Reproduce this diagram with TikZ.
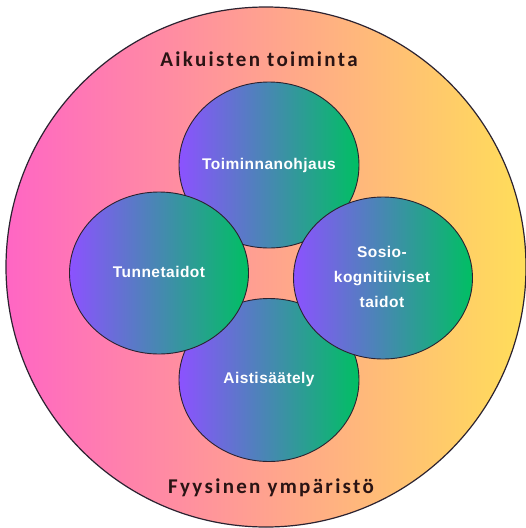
\documentclass[tikz,border=0pt]{standalone}
\usepackage{fontspec}
\setmainfont{Liberation Sans}
\newfontfamily\skillfont{Liberation Sans}[LetterSpace=3]
\newfontfamily\outerfont{Carlito}[LetterSpace=11]
\usetikzlibrary{shapes.geometric}
\definecolor{pinkA}{HTML}{FF66C4}
\definecolor{yellowA}{HTML}{FFDE59}
\definecolor{purpleA}{HTML}{8C52FF}
\definecolor{greenA}{HTML}{00BF63}
\definecolor{outline}{HTML}{2B2230}
\definecolor{titletext}{HTML}{2A1414}
\tikzset{
  outerring/.style={circle, inner sep=0pt, minimum size=520pt, left color=pinkA, right color=yellowA, draw=outline, line width=1.2pt},
  skill/.style={ellipse, inner sep=0pt, minimum width=180pt, minimum height=164pt, left color=purpleA, right color=greenA, draw=outline, line width=0.9pt},
  skilltext/.style={text=white, font=\skillfont\bfseries\fontsize{15.5}{25}\selectfont, align=center},
  outertext/.style={text=titletext, font=\outerfont\bfseries\fontsize{21}{24}\selectfont}
}
\begin{document}
\begin{tikzpicture}[x=1pt,y=-1pt]
\useasboundingbox (0,0) rectangle (526,528);
\fill[white] (0,0) rectangle (526,528);
\node[outerring] (outer) at (266,267) {};
\node[outertext] (aikuiset) at (259,59) {Aikuisten toiminta};
\node[outertext] (fyysinen) at (271,488) {Fyysinen ympäristö};
\node[skill, minimum height=166pt] (top) at (269,165) {};
\node[skill, minimum height=163pt] (bottom) at (269,380) {};
\node[skill, minimum width=179pt, minimum height=162pt] (left) at (159,273) {};
\node[skill, minimum width=179pt, minimum height=162pt] (right) at (383,278) {};
\node[skilltext] (toiminnan) at (top.center) {Toiminnanohjaus};
\node[skilltext] (aisti) at (269,379) {Aistisäätely};
\node[skilltext] (tunne) at (159,272) {Tunnetaidot};
\node[skilltext] (sosio) at (382,277) {Sosio-\\kognitiiviset\\taidot};
\end{tikzpicture}
\end{document}
